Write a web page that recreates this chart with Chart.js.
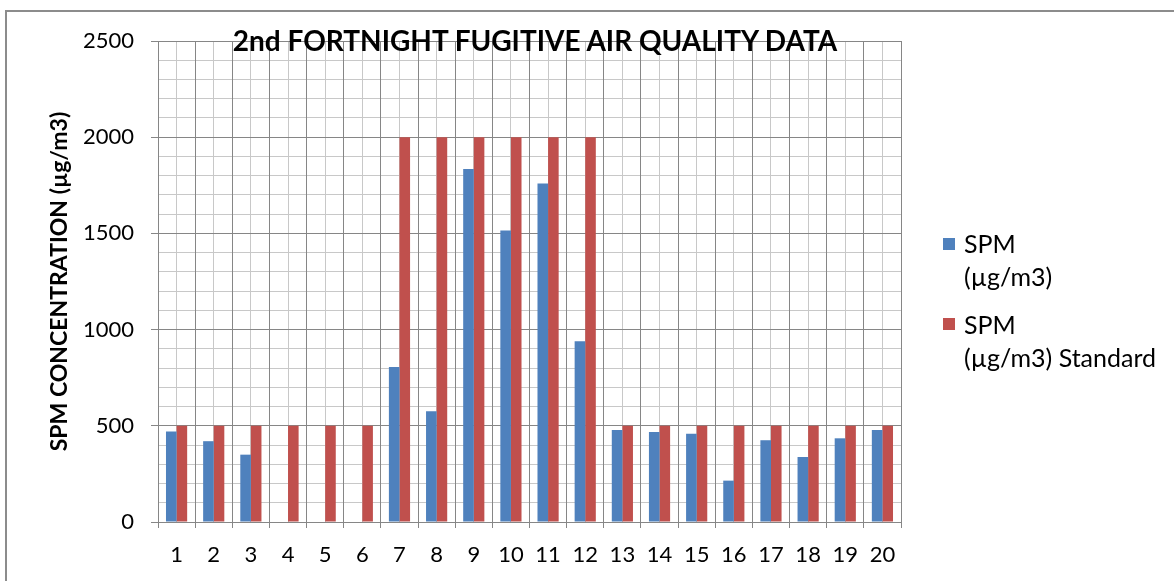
<!DOCTYPE html>
<html>
<head>
<meta charset="utf-8">
<script src="https://cdn.jsdelivr.net/npm/chart.js@4/dist/chart.umd.min.js"></script>
<style>
  html, body { margin: 0; padding: 0; background: #fff; }
  #wrap { position: relative; width: 1174px; height: 581px; overflow: hidden; font-family: Lato, sans-serif; }
  #frame { position: absolute; left: 5px; top: 10px; width: 1200px; height: 600px; border-left: 2px solid #8c8c8c; border-top: 2px solid #8c8c8c; }
  #chart { position: absolute; left: 0; top: 0; }
  #title { position: absolute; left: 0; width: 1070px; top: 24px; line-height: 32px; text-align: center; font-weight: bold; font-size: 28px; color: #000; }
  .leg { position: absolute; left: 943px; font-size: 25px; color: #000; }
  .leg .box { position: absolute; left: 0; width: 12px; height: 12px; }
  .leg .txt { position: absolute; left: 21px; white-space: nowrap; line-height: 33px; }
</style>
</head>
<body>
<div id="wrap">
  <div id="frame"></div>
  <canvas id="chart" width="1174" height="581"></canvas>
  <div id="title">2nd FORTNIGHT FUGITIVE AIR QUALITY DATA</div>
  <div class="leg" style="top:238px"><div class="box" style="background:#4f81bd"></div><div class="txt" style="top:-11px">SPM<br>(µg/m3)</div></div>
  <div class="leg" style="top:318px"><div class="box" style="background:#c0504d"></div><div class="txt" style="top:-10px">SPM<br>(µg/m3) Standard</div></div>
</div>
<script>
// data
const categories = ['1', '2', '3', '4', '5', '6', '7', '8', '9', '10',
                    '11', '12', '13', '14', '15', '16', '17', '18', '19', '20'];
const spmValues = [470, 420, 350, null, null, null, 805, 575, 1835, 1515,
                   1760, 940, 478, 468, 459, 215, 425, 338, 435, 478];
const standardValues = [500, 500, 500, 500, 500, 500, 2000, 2000, 2000, 2000,
                        2000, 2000, 500, 500, 500, 500, 500, 500, 500, 500];
const yMax = 2500;
const yMajorStep = 500;
const yMinorStep = 100;

const majorGrid = '#868686';
const minorGrid = '#c8c8c8';
const tickFont = { family: 'Lato', size: 22 };

const ctx = document.getElementById('chart').getContext('2d');
new Chart(ctx, {
    type: 'bar',
    data: {
        labels: categories,
        datasets: [
            {
                label: 'SPM (µg/m3)',
                data: spmValues,
                backgroundColor: '#4f81bd',
                categoryPercentage: 0.57,
                barPercentage: 1.0
            },
            {
                label: 'SPM (µg/m3) Standard',
                data: standardValues,
                backgroundColor: '#c0504d',
                categoryPercentage: 0.57,
                barPercentage: 1.0
            }
        ]
    },
    options: {
        responsive: false,
        animation: false,
        layout: {
            padding: { top: 41, right: 273, bottom: 0, left: 0 }
        },
        plugins: {
            legend: { display: false },
            title: { display: false },
            tooltip: { enabled: false }
        },
        scales: {
            x: {
                type: 'category',
                offset: true,
                grid: { offset: true, color: majorGrid, tickLength: 6 },
                border: { color: majorGrid },
                ticks: { font: tickFont, color: '#000', padding: 14, maxRotation: 0 },
                afterFit: s => { s.height = 59; }
            },
            x2: {
                type: 'category',
                labels: categories,
                position: 'top',
                offset: true,
                grid: { offset: false, color: minorGrid, drawTicks: false, z: -2 },
                border: { display: false },
                ticks: { display: false },
                afterFit: s => { s.height = 0; }
            },
            y: {
                min: 0,
                max: yMax,
                ticks: {
                    stepSize: yMajorStep,
                    font: tickFont,
                    color: '#000',
                    padding: 17,
                    callback: v => String(v)
                },
                grid: { color: majorGrid, tickLength: 7 },
                border: { color: majorGrid },
                title: {
                    display: true,
                    text: 'SPM CONCENTRATION (µg/m3)',
                    font: { family: 'Lato', size: 23, weight: 'bold' },
                    color: '#000',
                    padding: { top: 46, bottom: 0 }
                },
                afterFit: s => { s.width = 158; }
            },
            y2: {
                position: 'right',
                min: 0,
                max: yMax,
                ticks: { display: false, stepSize: yMinorStep },
                grid: { color: minorGrid, drawTicks: false, z: -2 },
                border: { display: false },
                afterFit: s => { s.width = 0; }
            }
        }
    }
});
</script>
</body>
</html>
